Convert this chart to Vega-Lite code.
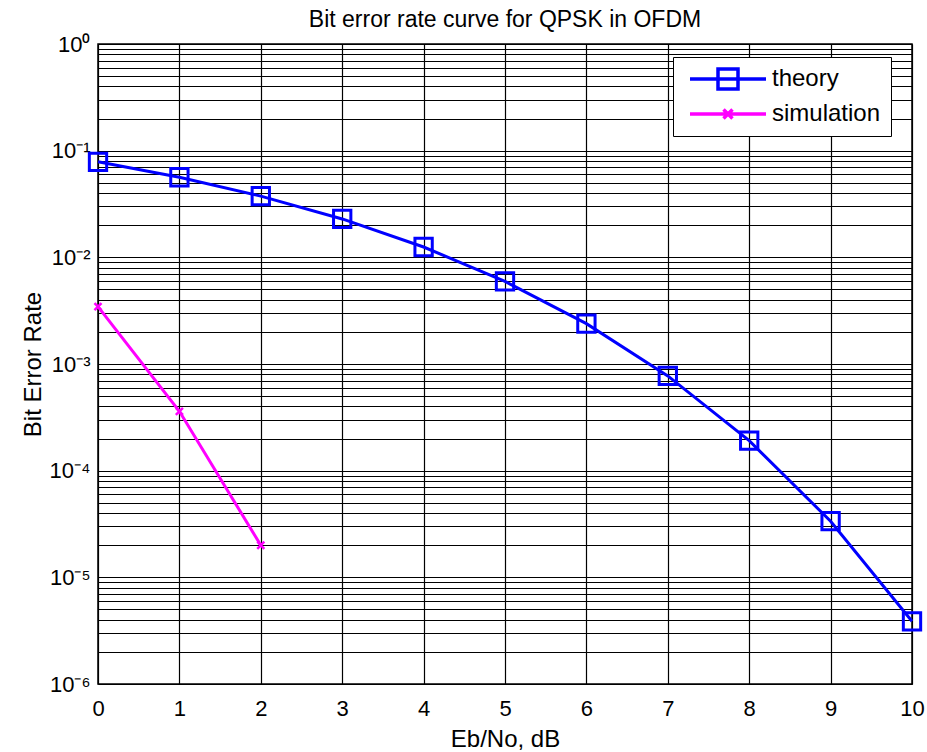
{
  "$schema": "https://vega.github.io/schema/vega-lite/v6.json",
  "width": 814,
  "height": 640,
  "autosize": "none",
  "padding": {"left": 98, "top": 44, "right": 15, "bottom": 68},
  "background": "white",
  "title": {
    "text": "Bit error rate curve for QPSK in OFDM",
    "font": "Liberation Sans",
    "fontSize": 23,
    "fontWeight": "normal",
    "color": "black",
    "offset": 1
  },
  "config": {
    "view": {"stroke": "black", "strokeWidth": 1.5},
    "axis": {
      "labelFont": "Liberation Sans",
      "titleFont": "Liberation Sans",
      "labelColor": "black",
      "titleColor": "black",
      "labelFontSize": 22,
      "titleFontSize": 24,
      "titleFontWeight": "normal",
      "gridColor": "black",
      "gridOpacity": 1,
      "gridWidth": 1.2,
      "domain": false,
      "ticks": false,
      "tickSize": 0
    }
  },
  "data": {
    "values": [
      {"x": 0, "ber": 0.0786, "series": "theory"},
      {"x": 1, "ber": 0.0563, "series": "theory"},
      {"x": 2, "ber": 0.0375, "series": "theory"},
      {"x": 3, "ber": 0.0229, "series": "theory"},
      {"x": 4, "ber": 0.0125, "series": "theory"},
      {"x": 5, "ber": 0.00595, "series": "theory"},
      {"x": 6, "ber": 0.00239, "series": "theory"},
      {"x": 7, "ber": 0.000773, "series": "theory"},
      {"x": 8, "ber": 0.000191, "series": "theory"},
      {"x": 9, "ber": 0.0000336, "series": "theory"},
      {"x": 10, "ber": 0.00000387, "series": "theory"},
      {"x": 0, "ber": 0.00345, "series": "simulation"},
      {"x": 1, "ber": 0.00036, "series": "simulation"},
      {"x": 2, "ber": 0.00002, "series": "simulation"}
    ]
  },
  "encoding": {
    "x": {
      "field": "x",
      "type": "quantitative",
      "scale": {"domain": [0, 10], "nice": false, "zero": false},
      "axis": {
        "title": "Eb/No, dB",
        "values": [0, 1, 2, 3, 4, 5, 6, 7, 8, 9, 10],
        "format": "d",
        "labelPadding": 14,
        "titlePadding": 8,
        "labelOverlap": false,
        "labelFlush": false
      }
    },
    "y": {
      "field": "ber",
      "type": "quantitative",
      "scale": {"type": "log", "domain": [0.000001, 1], "nice": false},
      "axis": {
        "title": "Bit Error Rate",
        "values": [0.000001, 0.000002, 0.000003, 0.000004, 0.000005, 0.000006, 0.000007, 0.000008, 0.000009,
                   0.00001, 0.00002, 0.00003, 0.00004, 0.00005, 0.00006, 0.00007, 0.00008, 0.00009,
                   0.0001, 0.0002, 0.0003, 0.0004, 0.0005, 0.0006, 0.0007, 0.0008, 0.0009,
                   0.001, 0.002, 0.003, 0.004, 0.005, 0.006, 0.007, 0.008, 0.009,
                   0.01, 0.02, 0.03, 0.04, 0.05, 0.06, 0.07, 0.08, 0.09,
                   0.1, 0.2, 0.3, 0.4, 0.5, 0.6, 0.7, 0.8, 0.9, 1],
        "labelExpr": "abs(log(datum.value)/LN10 - round(log(datum.value)/LN10)) < 0.001 ? ['10⁰','10⁻¹','10⁻²','10⁻³','10⁻⁴','10⁻⁵','10⁻⁶'][-round(log(datum.value)/LN10)] : ''",
        "labelPadding": 8,
        "titlePadding": 4,
        "labelOverlap": false,
        "labelBound": false,
        "labelFlush": false
      }
    }
  },
  "layer": [
    {
      "mark": {"type": "line", "strokeWidth": 3},
      "encoding": {
        "color": {
          "field": "series",
          "type": "nominal",
          "scale": {"domain": ["theory", "simulation"], "range": ["#0000ff", "#ff00ff"]},
          "legend": {
            "title": null,
            "orient": "none",
            "legendX": 575,
            "legendY": 13,
            "strokeColor": "black",
            "fillColor": "white",
            "padding": 10,
            "rowPadding": 6,
            "symbolSize": 100,
            "symbolStrokeWidth": 3.5,
            "symbolFillColor": "transparent",
            "labelOffset": 65,
            "labelFont": "Liberation Sans",
            "labelFontSize": 24,
            "labelColor": "black",
            "encode": {
              "symbols": {
                "update": {
                  "shape": {"signal": "datum.value === 'theory' ? 'M-1,0H14.2M4.6,-2H8.6V2H4.6Z' : 'M-1,0H14.2M5.7,-0.9L7.5,0.9M5.7,0.9L7.5,-0.9'"},
                  "fill": {"value": "transparent"},
                  "strokeWidth": {"value": 3.5}
                }
              }
            }
          }
        }
      }
    },
    {
      "transform": [{"filter": "datum.series === 'theory'"}],
      "mark": {"type": "point", "shape": "square", "size": 300, "strokeWidth": 3, "color": "#0000ff", "filled": false, "opacity": 1}
    },
    {
      "transform": [{"filter": "datum.series === 'simulation'"}],
      "mark": {"type": "point", "shape": "M-1,-1L1,1M-1,1L1,-1", "size": 50, "strokeWidth": 2.5, "color": "#ff00ff", "filled": false, "opacity": 1}
    }
  ]
}
